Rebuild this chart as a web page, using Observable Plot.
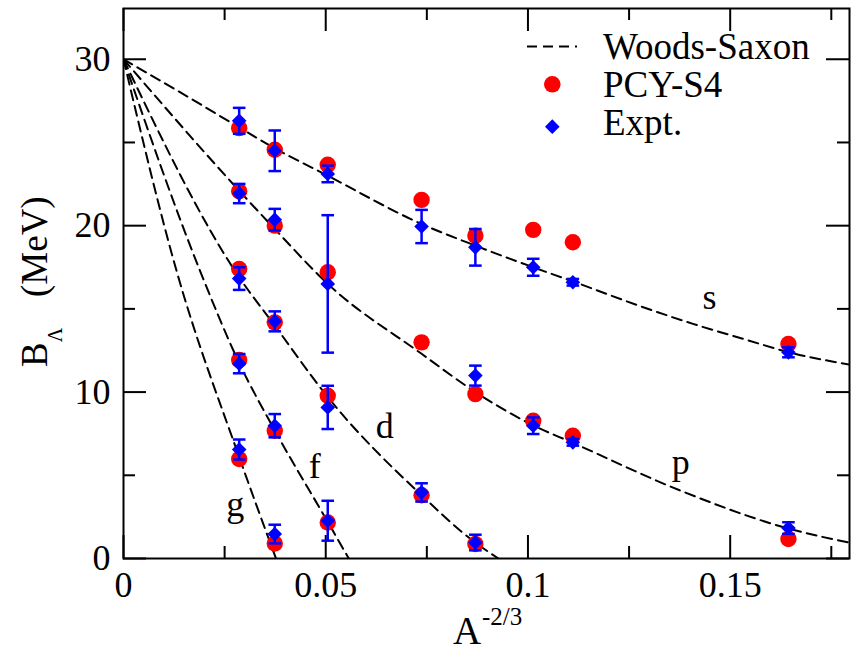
<!DOCTYPE html>
<html>
<head>
<meta charset="utf-8">
<script src="https://cdn.jsdelivr.net/npm/d3@7"></script>
<script src="https://cdn.jsdelivr.net/npm/@observablehq/plot@0.6"></script>
<style>
  html, body { margin: 0; padding: 0; background: #fff; }
  #chart svg { display: block; }
</style>
</head>
<body>
<div id="chart"></div>
<script>
// ---------------- data ----------------
// x positions of the hypernuclei, A^(-2/3)
const nucleiX = [0.0286, 0.0374, 0.0505, 0.0737, 0.0870, 0.1013, 0.1111, 0.1644];

// PCY-S4 (red circles), by single-particle state, in order of nucleiX
const pcyS = [25.86, 24.56, 23.66, 21.55, 19.40, 19.75, 19.00, 12.89];
const pcyP = [22.07, 20.00, 17.20, 12.99, 9.88, 8.28, 7.38, 1.17];
const pcyD = [17.40, 14.19, 9.78, 3.80, 0.87];
const pcyF = [11.93, 7.68, 2.16];
const pcyG = [5.98, 0.90];

// Experiment (blue diamonds) with error half-widths
const exptS    = [26.30, 24.50, 23.11, 19.95, 18.70, 17.50, 16.60, 12.39];
const exptSErr = [0.78, 1.22, 0.50, 1.00, 1.10, 0.51, 0.20, 0.30];
const exptP    = [21.93, 20.36, 16.50, null, 10.99, 7.98, 6.98, 1.83];
const exptPErr = [0.58, 0.65, 4.13, null, 0.60, 0.50, 0.20, 0.35];
const exptD    = [16.82, 14.25, 9.08, 3.97, 0.96];
const exptDErr = [0.68, 0.60, 1.30, 0.55, 0.47];
const exptF    = [11.71, 7.98, 2.27];
const exptFErr = [0.58, 0.70, 1.20];
const exptG    = [6.55, 1.47];
const exptGErr = [0.60, 0.56];

// Woods-Saxon curves
const wsSx = [0, 0.0176, 0.0286, 0.0374, 0.0505, 0.0737, 0.0870, 0.1013, 0.1111, 0.1285, 0.1408, 0.1532, 0.1644, 0.1795];
const wsSy = [30, 27.5, 25.9, 24.65, 23.0, 20.1, 18.8, 17.5, 16.65, 15.1, 14.1, 13.2, 12.4, 11.65];
const wsPx = [0, 0.0286, 0.0374, 0.0505, 0.0737, 0.0870, 0.1013, 0.1111, 0.1375, 0.1644, 0.1795];
const wsPy = [30, 22.1, 19.8, 16.5, 12.3, 10.0, 8.0, 6.95, 4.1, 1.8, 0.95];
const wsDx = [0, 0.0286, 0.0374, 0.0505, 0.0737, 0.0870, 0.0927];
const wsDy = [30, 16.9, 14.0, 9.7, 3.8, 0.95, 0];
const wsFx = [0, 0.0189, 0.0286, 0.0374, 0.0505, 0.0557];
const wsFy = [30, 17.3, 11.75, 7.7, 2.2, 0];
const wsGx = [0, 0.0131, 0.0286, 0.0377];
const wsGy = [30, 17.3, 6.1, 0];

// curve labels
const stateNames = ["s", "p", "d", "f", "g"];
const stateLabelX = [0.1449, 0.1378, 0.0646, 0.0473, 0.0276];
const stateLabelY = [15.71, 5.77, 7.95, 5.56, 3.26];

// axis ticks
const xMajor = [0, 0.05, 0.1, 0.15];
const xMinor = [0.025, 0.075, 0.125, 0.175];
const yMajor = [0, 10, 20, 30];
const yMinor = [5, 15, 25];

const legendLabels = ["Woods-Saxon", "PCY-S4", "Expt."];

// ---------------- build tables ----------------
const pcySets = [pcyS, pcyP, pcyD, pcyF, pcyG];
const exptSets = [exptS, exptP, exptD, exptF, exptG];
const exptErrSets = [exptSErr, exptPErr, exptDErr, exptFErr, exptGErr];
const wsSets = [[wsSx, wsSy], [wsPx, wsPy], [wsDx, wsDy], [wsFx, wsFy], [wsGx, wsGy]];

const pcyRows = [];
pcySets.forEach((arr, k) => arr.forEach((v, i) => {
  if (v != null) pcyRows.push({state: stateNames[k], x: nucleiX[i], y: v});
}));
const exptRows = [];
exptSets.forEach((arr, k) => arr.forEach((v, i) => {
  if (v != null) exptRows.push({state: stateNames[k], x: nucleiX[i], y: v, e: exptErrSets[k][i]});
}));
const capRows = [];
exptRows.forEach(d => { capRows.push({x: d.x, y: d.y - d.e}); capRows.push({x: d.x, y: d.y + d.e}); });
const wsRows = [];
wsSets.forEach(([xs, ys], k) => xs.forEach((x, i) => wsRows.push({state: stateNames[k], x, y: ys[i]})));
const labelRows = stateNames.map((s, i) => ({label: s, x: stateLabelX[i], y: stateLabelY[i]}));

// ---------------- chart ----------------
const W = 852, H = 653;
const mL = 123, mR = 3, mT = 8, mB = 95;
const frameW = W - mL - mR, frameH = H - mT - mB;
const majorLen = 23, minorLen = 12;
const RED = "#ff0000", BLUE = "#0000ff";
const FONT = "Liberation Serif, DejaVu Serif, Times New Roman, serif";
const dash = "10,6";

const capSymbol = {
  draw(ctx, size) {
    const w = Math.sqrt(size / Math.PI);
    ctx.moveTo(-w, 0);
    ctx.lineTo(w, 0);
  }
};

const tickStyle = {stroke: "black", strokeWidth: 2};

const chart = Plot.plot({
  width: W, height: H,
  marginLeft: mL, marginRight: mR, marginTop: mT, marginBottom: mB,
  style: {fontFamily: FONT, fontSize: "36px", color: "black", background: "white", overflow: "visible"},
  x: {domain: [0, 0.1795]},
  y: {domain: [0, 33.05]},
  marks: [
    Plot.axisX({ticks: xMajor, tickSize: 0, tickPadding: 13, tickFormat: d => String(d), label: null, fontSize: 36, fontFamily: FONT}),
    Plot.axisY({ticks: yMajor, tickSize: 0, tickPadding: 13, tickFormat: d => String(d), label: null, fontSize: 36, fontFamily: FONT}),
    // inward ticks on all four sides
    Plot.ruleX(xMajor, {...tickStyle, insetTop: frameH - majorLen}),
    Plot.ruleX(xMajor, {...tickStyle, insetBottom: frameH - majorLen}),
    Plot.ruleX(xMinor, {...tickStyle, insetTop: frameH - minorLen}),
    Plot.ruleX(xMinor, {...tickStyle, insetBottom: frameH - minorLen}),
    Plot.ruleY(yMajor, {...tickStyle, insetRight: frameW - majorLen}),
    Plot.ruleY(yMajor, {...tickStyle, insetLeft: frameW - majorLen}),
    Plot.ruleY(yMinor, {...tickStyle, insetRight: frameW - minorLen}),
    Plot.ruleY(yMinor, {...tickStyle, insetLeft: frameW - minorLen}),
    // Woods-Saxon curves
    Plot.line(wsRows, {x: "x", y: "y", z: "state", stroke: "black", strokeWidth: 2,
      strokeDasharray: dash, curve: "monotone-x", clip: true}),
    // PCY-S4
    Plot.dot(pcyRows, {x: "x", y: "y", r: 8.2, fill: RED, stroke: "none"}),
    // Expt error bars
    Plot.ruleX(exptRows, {x: "x", y1: d => d.y - d.e, y2: d => d.y + d.e, stroke: BLUE, strokeWidth: 2.5}),
    Plot.dot(capRows, {x: "x", y: "y", symbol: capSymbol, r: 6.3, stroke: BLUE, strokeWidth: 2.5, fill: "none"}),
    Plot.dot(exptRows, {x: "x", y: "y", symbol: "diamond2", r: 6.6, fill: BLUE, stroke: "none"}),
    // state labels
    Plot.text(labelRows, {x: "x", y: "y", text: "label", fontSize: 36, fontFamily: FONT, fill: "black"}),
    Plot.frame({stroke: "black", strokeWidth: 2})
  ]
});

document.getElementById("chart").appendChild(chart);

// ---------------- axis titles and legend ----------------
const svg = d3.select(chart);

// x title: A^{-2/3}
const xt = svg.append("text")
  .attr("x", 453).attr("y", 644).attr("text-anchor", "start")
  .style("font-family", FONT).style("font-size", "39px").attr("fill", "black");
xt.append("tspan").text("A");
xt.append("tspan").attr("x", 482).attr("dy", -19.5).style("font-size", "25px").text("-2/3");

// y title: B_Λ  (MeV)
const yt = svg.append("text")
  .attr("transform", "translate(46.5,367) rotate(-90)").attr("text-anchor", "start")
  .style("font-family", FONT).style("font-size", "37px").attr("fill", "black");
yt.append("tspan").attr("x", 0).text("B");
yt.append("tspan").attr("dy", 15).style("font-size", "20px").text("Λ");
yt.append("tspan").attr("x", 70).attr("dy", -15).text("(MeV)");

// legend
const lg = svg.append("g");
lg.append("line").attr("x1", 527).attr("x2", 577).attr("y1", 46.5).attr("y2", 46.5)
  .attr("stroke", "black").attr("stroke-width", 2).attr("stroke-dasharray", dash);
lg.append("circle").attr("cx", 552.3).attr("cy", 84.3).attr("r", 8.3).attr("fill", RED);
lg.append("path").attr("transform", "translate(552.3,126.7)")
  .attr("d", d3.symbol(d3.symbolDiamond2, Math.PI * 6.6 * 6.6)())
  .attr("fill", BLUE);
const lgBase = [59.3, 96.7, 135];
legendLabels.forEach((t, i) => {
  lg.append("text").attr("x", 603).attr("y", lgBase[i]).attr("text-anchor", "start")
    .style("font-family", FONT).style("font-size", "37px").attr("fill", "black").text(t);
});
</script>
</body>
</html>
